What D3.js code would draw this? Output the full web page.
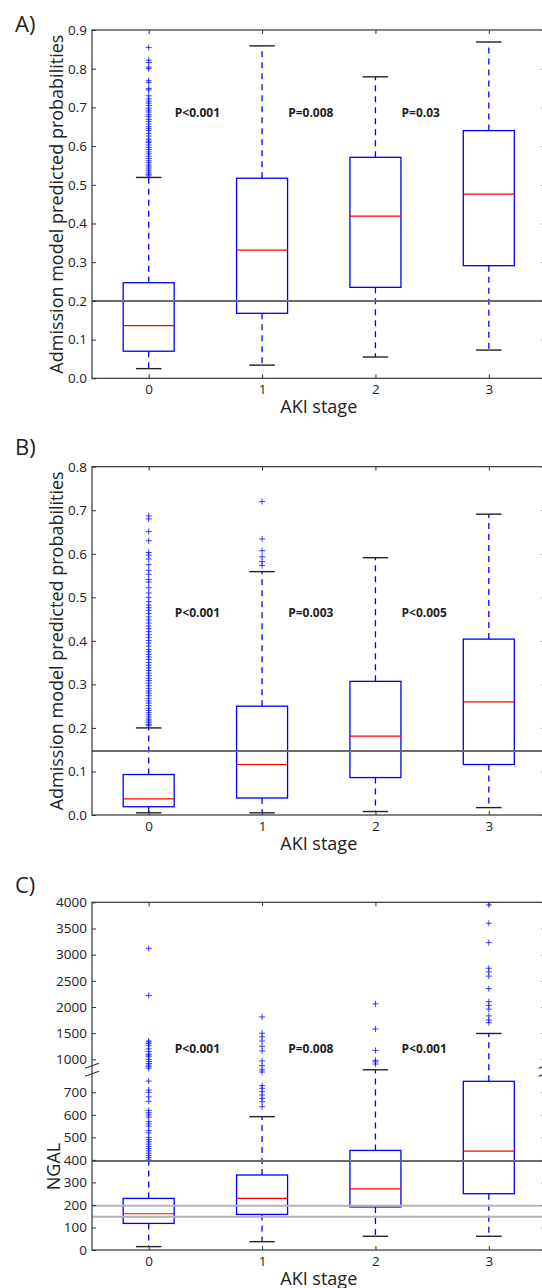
<!DOCTYPE html>
<html>
<head>
<meta charset="utf-8">
<script src="https://cdn.jsdelivr.net/npm/d3@7"></script>
<style>
  body { margin: 0; background: #fff; }
  text { font-family: "Open Sans", sans-serif; fill: #222; }
</style>
</head>
<body>
<div class="chart"></div>
<script>
// AKI stage categories
var stages = [0, 1, 2, 3];

// Panel A - admission model predicted probabilities
var aLow = [0.025, 0.034, 0.055, 0.073];
var aQ1 = [0.070, 0.168, 0.235, 0.291];
var aMed = [0.136, 0.331, 0.419, 0.476];
var aQ3 = [0.247, 0.517, 0.571, 0.640];
var aHigh = [0.519, 0.859, 0.779, 0.869];
var aOutliers = [
  [0.855, 0.822, 0.816, 0.804, 0.800, 0.769, 0.764, 0.749, 0.745, 0.730, 0.722, 0.716,
   0.711, 0.705, 0.698, 0.693, 0.688, 0.681, 0.676, 0.669, 0.664, 0.657, 0.650, 0.645,
   0.640, 0.633, 0.626, 0.618, 0.613, 0.609, 0.603, 0.597, 0.591, 0.585, 0.580, 0.574,
   0.568, 0.562, 0.557, 0.551, 0.546, 0.541, 0.536, 0.531, 0.527, 0.523],
  [], [], []
];
var aRefLines = [0.2];
var aTicks = [0, 0.1, 0.2, 0.3, 0.4, 0.5, 0.6, 0.7, 0.8, 0.9];
var aPLabels = ["P<0.001", "P=0.008", "P=0.03"];

// Panel B - admission model predicted probabilities
var bLow = [0.005, 0.005, 0.008, 0.017];
var bQ1 = [0.019, 0.039, 0.086, 0.116];
var bMed = [0.037, 0.116, 0.181, 0.260];
var bQ3 = [0.093, 0.250, 0.307, 0.404];
var bHigh = [0.200, 0.559, 0.591, 0.691];
var bOutliers = [
  [0.687, 0.680, 0.651, 0.630, 0.603, 0.597, 0.588, 0.575, 0.562, 0.553, 0.541, 0.535,
   0.522, 0.510, 0.500, 0.490, 0.482, 0.476, 0.470, 0.463, 0.455, 0.448, 0.441, 0.434,
   0.428, 0.421, 0.414, 0.408, 0.401, 0.395, 0.388, 0.380, 0.375, 0.369, 0.363, 0.357,
   0.350, 0.344, 0.338, 0.332, 0.326, 0.320, 0.314, 0.309, 0.303, 0.297, 0.291, 0.285,
   0.280, 0.274, 0.268, 0.262, 0.257, 0.251, 0.245, 0.240, 0.235, 0.230, 0.225, 0.220,
   0.216, 0.212, 0.208, 0.205],
  [0.720, 0.634, 0.607, 0.593, 0.582, 0.573],
  [], []
];
var bRefLines = [0.147];
var bTicks = [0, 0.1, 0.2, 0.3, 0.4, 0.5, 0.6, 0.7, 0.8];
var bPLabels = ["P<0.001", "P=0.003", "P<0.005"];

// Panel C - NGAL (broken y axis)
var cLow = [15, 37, 61, 61];
var cQ1 = [118, 158, 191, 250];
var cMed = [161, 229, 271, 439];
var cQ3 = [229, 333, 442, 749];
var cHigh = [395, 592, 800, 1494];
var cOutliers = [
  [3120, 2220, 1350, 1330, 1300, 1260, 1200, 1150, 1100, 1080, 1050, 1000, 960, 920,
   890, 860, 830, 750, 710, 700, 680, 660, 620, 610, 600, 590, 570, 560, 550, 530, 520,
   500, 490, 480, 470, 460, 450, 440, 430, 420, 410, 400],
  [1810, 1500, 1430, 1350, 1250, 1160, 970, 880, 800, 790, 730, 718, 703, 688, 673, 658, 636],
  [2060, 1580, 1170, 980, 950, 910],
  [3950, 3600, 3230, 2740, 2670, 2590, 2350, 2100, 2030, 1960, 1830, 1750, 1700]
];
var cDarkLines = [395];
var cLightLines = [197, 148];
var cTicks = [0, 100, 200, 300, 400, 500, 600, 700, 1000, 1500, 2000, 2500, 3000, 3500, 4000];
var cPLabels = ["P<0.001", "P=0.008", "P<0.001"];

// SVG area
var svgWidth = 542;
var svgHeight = 1288;

var svg = d3.select(".chart")
  .append("svg")
  .attr("width", svgWidth)
  .attr("height", svgHeight);

// Shared x scale (the right spine sits just past the picture edge)
var plotLeft = 92;
var plotRight = 545.5;
var xScale = d3.scaleLinear().domain([-0.5, 3.5]).range([plotLeft, plotRight]);
var boxWidth = xScale(0.45) - xScale(0);
var capWidth = boxWidth / 2;

function drawPanel(p) {
  var g = svg.append("g");
  var y = p.yScale;

  // panel letter
  g.append("text")
    .attr("x", 15)
    .attr("y", p.letterY)
    .style("font-size", "22px")
    .text(p.letter);

  // one group per box
  var boxes = stages.map(function(s, i) {
    return { stage: s, low: p.low[i], q1: p.q1[i], med: p.med[i], q3: p.q3[i], high: p.high[i], out: p.outliers[i] };
  });

  var bg = g.selectAll(".box")
    .data(boxes)
    .enter()
    .append("g")
    .attr("class", "box");

  // dashed whiskers
  bg.append("line")
    .attr("x1", d => xScale(d.stage)).attr("x2", d => xScale(d.stage))
    .attr("y1", d => y(d.q3)).attr("y2", d => y(d.high))
    .attr("stroke", "#0000ff").attr("stroke-width", 1.3).attr("stroke-dasharray", "6,5");
  bg.append("line")
    .attr("x1", d => xScale(d.stage)).attr("x2", d => xScale(d.stage))
    .attr("y1", d => y(d.q1)).attr("y2", d => y(d.low))
    .attr("stroke", "#0000ff").attr("stroke-width", 1.3).attr("stroke-dasharray", "6,5");

  // caps
  ["high", "low"].forEach(function(k) {
    bg.append("line")
      .attr("x1", d => xScale(d.stage) - capWidth / 2)
      .attr("x2", d => xScale(d.stage) + capWidth / 2)
      .attr("y1", d => y(d[k])).attr("y2", d => y(d[k]))
      .attr("stroke", "#222").attr("stroke-width", 1.4);
  });

  // box
  bg.append("rect")
    .attr("x", d => xScale(d.stage) - boxWidth / 2)
    .attr("y", d => y(d.q3))
    .attr("width", boxWidth)
    .attr("height", d => y(d.q1) - y(d.q3))
    .attr("fill", "none")
    .attr("stroke", "#0000ff")
    .attr("stroke-width", 1.3);

  // median
  bg.append("line")
    .attr("x1", d => xScale(d.stage) - boxWidth / 2)
    .attr("x2", d => xScale(d.stage) + boxWidth / 2)
    .attr("y1", d => y(d.med)).attr("y2", d => y(d.med))
    .attr("stroke", "#ff0000").attr("stroke-width", 1.2);

  // outliers as + markers
  bg.each(function(d) {
    d3.select(this).selectAll(".flier")
      .data(d.out)
      .enter()
      .append("path")
      .attr("class", "flier")
      .attr("d", "M-3,0H3M0,-3V3")
      .attr("transform", v => `translate(${xScale(d.stage)}, ${y(v)})`)
      .attr("stroke", "#0000ff")
      .attr("stroke-opacity", 0.75)
      .attr("stroke-width", 1);
  });

  // reference lines
  g.selectAll(".light")
    .data(p.lightLines || [])
    .enter()
    .append("line")
    .attr("x1", plotLeft).attr("x2", plotRight)
    .attr("y1", d => y(d)).attr("y2", d => y(d))
    .attr("stroke", "#b4b4b4").attr("stroke-width", 2);
  g.selectAll(".dark")
    .data(p.darkLines)
    .enter()
    .append("line")
    .attr("x1", plotLeft).attr("x2", plotRight)
    .attr("y1", d => y(d)).attr("y2", d => y(d))
    .attr("stroke", "#6a6a6a").attr("stroke-width", 2);

  // axes (ticks point inward on all four sides)
  var top = p.top, bottom = p.bottom;
  var leftAxis = d3.axisLeft(y).tickValues(p.ticks).tickFormat(p.format)
    .tickSizeInner(-4).tickSizeOuter(0).tickPadding(5);
  var rightAxis = d3.axisRight(y).tickValues(p.ticks).tickFormat("")
    .tickSizeInner(-4).tickSizeOuter(0);
  var bottomAxis = d3.axisBottom(xScale).tickValues(stages).tickFormat(d3.format("d"))
    .tickSizeInner(-4).tickSizeOuter(0).tickPadding(6);
  var topAxis = d3.axisTop(xScale).tickValues(stages).tickFormat("")
    .tickSizeInner(-4).tickSizeOuter(0);

  [[leftAxis, `translate(${plotLeft},0)`], [rightAxis, `translate(${plotRight},0)`],
   [bottomAxis, `translate(0,${bottom})`], [topAxis, `translate(0,${top})`]].forEach(function(a) {
    var ag = g.append("g").attr("transform", a[1]).call(a[0]);
    ag.select(".domain").remove();
    ag.selectAll("line").attr("stroke", "#333");
    ag.selectAll("text")
      .style("font-size", "13.5px")
      .style("font-family", "'Open Sans', sans-serif")
      .attr("fill", "#222");
  });

  // frame
  g.append("rect")
    .attr("x", plotLeft).attr("y", top)
    .attr("width", plotRight - plotLeft).attr("height", bottom - top)
    .attr("fill", "none").attr("stroke", "#333").attr("stroke-width", 1.2);

  // p-value annotations
  g.selectAll(".pval")
    .data(p.pLabels)
    .enter()
    .append("text")
    .attr("x", (d, i) => xScale(i + 0.23))
    .attr("y", y(p.pY))
    .style("font-size", "12px")
    .style("font-weight", "bold")
    .attr("fill", "#111")
    .text(d => d);

  // axis labels
  g.append("text")
    .attr("transform", `translate(${(plotLeft + plotRight) / 2}, ${bottom + 34.5})`)
    .attr("text-anchor", "middle")
    .style("font-size", "18px")
    .text("AKI stage");

  g.append("text")
    .attr("transform", `translate(${p.yLabelX}, ${p.yLabelY}) rotate(-90)`)
    .attr("text-anchor", "middle")
    .style("font-size", "18px")
    .text(p.yLabel);

  return g;
}

// Panel A
var aTop = 30, aBottom = 378.3;
drawPanel({
  letter: "A)", letterY: 32, top: aTop, bottom: aBottom,
  yScale: d3.scaleLinear().domain([0, 0.9]).range([aBottom, aTop]),
  low: aLow, q1: aQ1, med: aMed, q3: aQ3, high: aHigh, outliers: aOutliers,
  darkLines: aRefLines, ticks: aTicks, format: d3.format(".1f"),
  pLabels: aPLabels, pY: 0.675,
  yLabel: "Admission model predicted probabilities", yLabelX: 63, yLabelY: (aTop + aBottom) / 2
});

// Panel B
var bTop = 466.7, bBottom = 815;
drawPanel({
  letter: "B)", letterY: 455, top: bTop, bottom: bBottom,
  yScale: d3.scaleLinear().domain([0, 0.8]).range([bBottom, bTop]),
  low: bLow, q1: bQ1, med: bMed, q3: bQ3, high: bHigh, outliers: bOutliers,
  darkLines: bRefLines, ticks: bTicks, format: d3.format(".1f"),
  pLabels: bPLabels, pY: 0.455,
  yLabel: "Admission model predicted probabilities", yLabelX: 63, yLabelY: (bTop + bBottom) / 2
});

// Panel C: piecewise scale, 0-800 stretched, 800-4000 compressed
var cTop = 902.3, cBottom = 1250;
var cBreak = cBottom - 180.2;
var cScale = d3.scaleLinear().domain([0, 800, 4000]).range([cBottom, cBreak, cTop]);
var cPanel = drawPanel({
  letter: "C)", letterY: 893, top: cTop, bottom: cBottom,
  yScale: cScale,
  low: cLow, q1: cQ1, med: cMed, q3: cQ3, high: cHigh, outliers: cOutliers,
  darkLines: cDarkLines, lightLines: cLightLines, ticks: cTicks, format: d3.format("d"),
  pLabels: cPLabels, pY: 1117,
  yLabel: "NGAL", yLabelX: 60, yLabelY: 1166.5
});

// axis break marks on both spines
[plotLeft, plotRight].forEach(function(sx) {
  [-4, 4].forEach(function(off) {
    cPanel.append("line")
      .attr("x1", sx - 7).attr("x2", sx + 7)
      .attr("y1", cBreak + off + 2.5).attr("y2", cBreak + off - 2.5)
      .attr("stroke", "#333").attr("stroke-width", 1.2);
  });
});
</script>
</body>
</html>
